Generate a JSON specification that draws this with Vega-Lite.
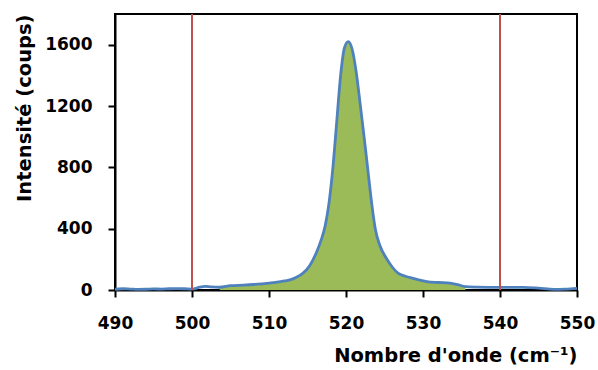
{
  "$schema": "https://vega.github.io/schema/vega-lite/v6.json",
  "width": 462,
  "height": 276,
  "autosize": {"type": "none"},
  "padding": {"left": 115, "top": 14, "right": 21, "bottom": 80},
  "background": "white",
  "config": {
    "view": {"stroke": "black", "strokeWidth": 2},
    "font": "DejaVu Sans",
    "axis": {
      "labelFont": "DejaVu Sans",
      "titleFont": "DejaVu Sans",
      "labelFontWeight": "bold",
      "titleFontWeight": "bold",
      "labelFontSize": 17,
      "titleFontSize": 19.5,
      "labelColor": "black",
      "titleColor": "black",
      "domainColor": "black",
      "domainWidth": 2,
      "tickColor": "black",
      "tickWidth": 2,
      "tickSize": 7,
      "labelFlush": false,
      "grid": false
    }
  },
  "datasets": {
    "spectrum": [
      {"w": 490, "v": 5}, {"w": 491, "v": 8}, {"w": 492, "v": 6}, {"w": 493, "v": 4},
      {"w": 494, "v": 5}, {"w": 495, "v": 7}, {"w": 496, "v": 6}, {"w": 497, "v": 8},
      {"w": 498, "v": 9}, {"w": 499, "v": 8}, {"w": 500, "v": 6}, {"w": 501, "v": 18},
      {"w": 501.7, "v": 24}, {"w": 502.5, "v": 20}, {"w": 503.6, "v": 18}, {"w": 505, "v": 28},
      {"w": 506.7, "v": 32}, {"w": 508, "v": 36}, {"w": 510, "v": 45}, {"w": 511.5, "v": 55},
      {"w": 512.7, "v": 66}, {"w": 513.5, "v": 82}, {"w": 514.3, "v": 105}, {"w": 515.3, "v": 160},
      {"w": 516.2, "v": 250}, {"w": 516.8, "v": 330}, {"w": 517.3, "v": 420}, {"w": 517.8, "v": 570},
      {"w": 518.3, "v": 800}, {"w": 518.8, "v": 1100}, {"w": 519.3, "v": 1400}, {"w": 519.8, "v": 1580},
      {"w": 520.3, "v": 1620}, {"w": 520.8, "v": 1570}, {"w": 521.3, "v": 1430}, {"w": 521.8, "v": 1230},
      {"w": 522.3, "v": 1020}, {"w": 522.8, "v": 800}, {"w": 523.3, "v": 580}, {"w": 523.8, "v": 400},
      {"w": 524.4, "v": 290}, {"w": 525.2, "v": 210}, {"w": 526, "v": 150}, {"w": 526.8, "v": 108},
      {"w": 527.7, "v": 90}, {"w": 528.7, "v": 76}, {"w": 530.5, "v": 55}, {"w": 532, "v": 49},
      {"w": 533.5, "v": 45}, {"w": 534.5, "v": 35}, {"w": 535.5, "v": 22}, {"w": 537, "v": 19},
      {"w": 540, "v": 17}, {"w": 543, "v": 17}, {"w": 545, "v": 12}, {"w": 547, "v": 4},
      {"w": 548.5, "v": 6}, {"w": 550, "v": 11}
    ],
    "limits": [{"w": 500}, {"w": 540}]
  },
  "layer": [
    {
      "data": {"name": "spectrum"},
      "transform": [{"filter": "datum.w >= 503.6 && datum.w <= 535.5"}],
      "mark": {"type": "area", "color": "#9bbb59", "interpolate": "monotone"},
      "encoding": {
        "x": {"field": "w", "type": "quantitative"},
        "y": {"field": "v", "type": "quantitative"}
      }
    },
    {
      "data": {"name": "spectrum"},
      "mark": {"type": "line", "color": "#4f81bd", "strokeWidth": 2.8, "interpolate": "monotone"},
      "encoding": {
        "x": {
          "field": "w", "type": "quantitative",
          "scale": {"domain": [490, 550], "nice": false, "zero": false},
          "axis": {
            "values": [490, 500, 510, 520, 530, 540, 550],
            "format": "d",
            "title": "Nombre d'onde (cm⁻¹)",
            "titleAnchor": "end",
            "labelPadding": 18,
            "titlePadding": 15
          }
        },
        "y": {
          "field": "v", "type": "quantitative",
          "scale": {"domain": [0, 1800], "nice": false},
          "axis": {
            "values": [0, 400, 800, 1200, 1600],
            "format": "d",
            "title": "Intensité (coups)",
            "titleAnchor": "end",
            "labelPadding": 16,
            "titlePadding": 10
          }
        }
      }
    },
    {
      "data": {"name": "limits"},
      "mark": {"type": "rule", "color": "#c0504d", "strokeWidth": 2},
      "encoding": {
        "x": {"field": "w", "type": "quantitative"}
      }
    }
  ]
}
